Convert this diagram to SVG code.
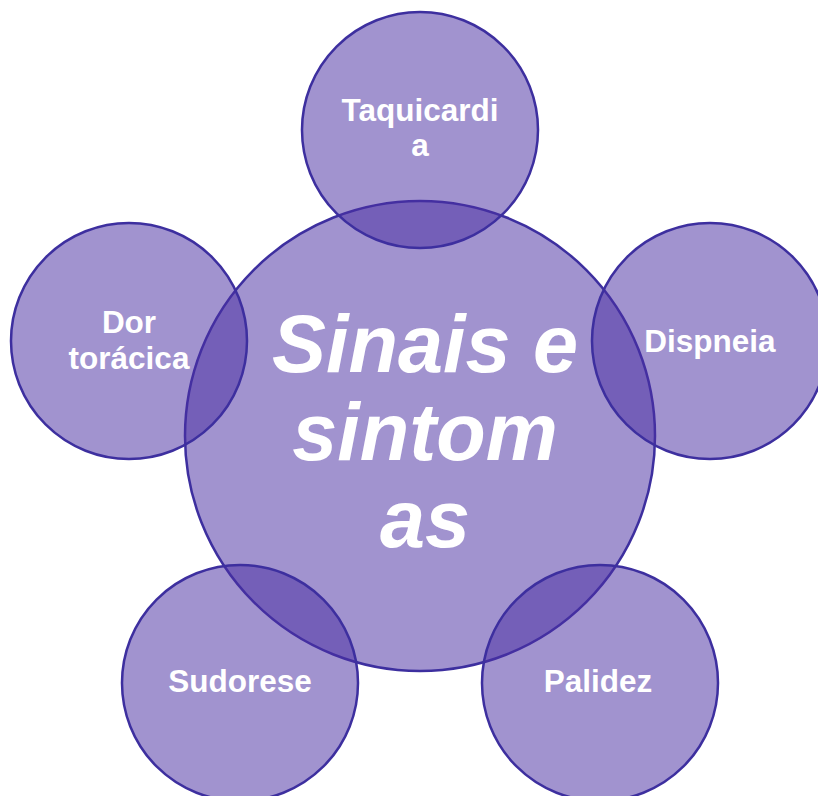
<svg xmlns="http://www.w3.org/2000/svg" width="818" height="796" viewBox="0 0 818 796">
<style>
.c{fill:#4a2fa3;fill-opacity:0.52;stroke:#3d2f9f;stroke-width:2.5}
.t{font-family:"Liberation Sans",Arial,sans-serif;font-weight:bold;fill:#ffffff;text-anchor:middle}
.s{font-size:31.5px}
.b{font-size:81px;font-style:italic}
</style>
<rect width="818" height="796" fill="#ffffff"/>
<g id="center">
<circle class="c" cx="420" cy="436" r="235"/>
<text class="t b" x="425" y="372">Sinais e</text>
<text class="t b" x="425" y="460">sintom</text>
<text class="t b" x="425" y="547">as</text>
</g>
<g id="taquicardia">
<circle class="c" cx="420" cy="130" r="118"/>
<text class="t s" x="420" y="121">Taquicardi</text>
<text class="t s" x="420" y="156">a</text>
</g>
<g id="dispneia">
<circle class="c" cx="710" cy="341" r="118"/>
<text class="t s" x="710" y="352">Dispneia</text>
</g>
<g id="palidez">
<circle class="c" cx="600" cy="683" r="118"/>
<text class="t s" x="598" y="692">Palidez</text>
</g>
<g id="sudorese">
<circle class="c" cx="240" cy="683" r="118"/>
<text class="t s" x="240" y="692">Sudorese</text>
</g>
<g id="dor">
<circle class="c" cx="129" cy="341" r="118"/>
<text class="t s" x="129" y="333">Dor</text>
<text class="t s" x="129" y="369">torácica</text>
</g>
<g id="connectors"/>
</svg>
